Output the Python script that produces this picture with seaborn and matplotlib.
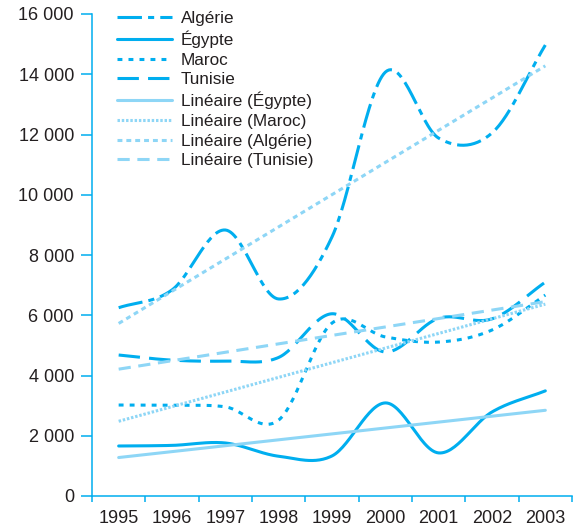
import numpy as np
import pandas as pd
import seaborn as sns
import matplotlib.pyplot as plt
from matplotlib.ticker import FuncFormatter, FixedLocator

# Values
years = [1995, 1996, 1997, 1998, 1999, 2000, 2001, 2002, 2003]
algerie = [6250, 6840, 8830, 6540, 8600, 14070, 11880, 12050, 14970]
egypte = [1660, 1680, 1760, 1320, 1330, 3090, 1430, 2790, 3490]
maroc = [3020, 3010, 2960, 2520, 5740, 5280, 5110, 5510, 6670]
tunisie = [4680, 4510, 4480, 4600, 6050, 4780, 5900, 5880, 7100]
y_ticks = [0, 2000, 4000, 6000, 8000, 10000, 12000, 14000, 16000]

dark = '#00AEEF'
light = '#8ED6F6'
text_col = '#231F20'

sns.set_style('white')
plt.rcParams['font.family'] = ['Liberation Sans', 'DejaVu Sans']
plt.rcParams['font.size'] = 13
plt.rcParams['text.color'] = text_col


def smooth(x, y, n=30):
    # Catmull-Rom style smoothing, like a spreadsheet "smoothed line"
    x = np.asarray(x, float)
    y = np.asarray(y, float)
    yp = np.concatenate([[2 * y[0] - y[1]], y, [2 * y[-1] - y[-2]]])
    xs, ys = [], []
    for i in range(len(x) - 1):
        m0 = (yp[i + 2] - yp[i]) / 2
        m1 = (yp[i + 3] - yp[i + 1]) / 2
        t = np.linspace(0, 1, n, endpoint=False)
        h00 = 2 * t**3 - 3 * t**2 + 1
        h10 = t**3 - 2 * t**2 + t
        h01 = -2 * t**3 + 3 * t**2
        h11 = t**3 - t**2
        xs.append(x[i] + t * (x[i + 1] - x[i]))
        ys.append(h00 * y[i] + h10 * m0 + h01 * y[i + 1] + h11 * m1)
    xs.append([x[-1]])
    ys.append([y[-1]])
    return np.concatenate(xs), np.concatenate(ys)


fig = plt.figure(figsize=(5.73, 5.27), dpi=100)
ax = fig.add_axes([92 / 573, 31 / 527, 480 / 573, 482 / 527])

series = [
    ('Algérie', algerie, (0, (8, 2, 2, 2))),
    ('Égypte', egypte, '-'),
    ('Maroc', maroc, (0, (1.6, 2.0))),
    ('Tunisie', tunisie, (0, (7, 3))),
]
handles = []
for name, vals, ls in series:
    xs, ys = smooth(years, vals)
    df = pd.DataFrame({'annee': xs, 'valeur': ys})
    sns.lineplot(data=df, x='annee', y='valeur', ax=ax, color=dark, lw=2.2,
                 linestyle=ls, sort=False, estimator=None)
    ax.lines[-1].set_label(name)
    handles.append(ax.lines[-1])

trends = [
    ('Linéaire (Égypte)', egypte, '-'),
    ('Linéaire (Maroc)', maroc, (0, (0.8, 0.6))),
    ('Linéaire (Algérie)', algerie, (0, (1.6, 1.3))),
    ('Linéaire (Tunisie)', tunisie, (0, (4, 2.5))),
]
for name, vals, ls in trends:
    sns.regplot(x=np.array(years, float), y=np.array(vals, float), ax=ax,
                scatter=False, ci=None, truncate=True, color=light,
                line_kws=dict(lw=2.2, linestyle=ls))
    ax.lines[-1].set_label(name)
    handles.append(ax.lines[-1])

ax.set_xlim(1994.5, 2003.5)
ax.set_ylim(0, 16000)
ax.set_xlabel('')
ax.set_ylabel('')

ax.set_yticks(y_ticks)
ax.yaxis.set_major_formatter(FuncFormatter(lambda v, p: f'{v:,.0f}'.replace(',', ' ')))
ax.xaxis.set_major_locator(FixedLocator(np.arange(1994.5, 2004, 1.0)))
ax.xaxis.set_major_formatter(FuncFormatter(lambda v, p: ''))
ax.xaxis.set_minor_locator(FixedLocator(years))
ax.xaxis.set_minor_formatter(FuncFormatter(lambda v, p: f'{int(round(v))}'))

ax.tick_params(axis='y', which='major', direction='out', length=8, width=1.1,
               color=dark, labelcolor=text_col, pad=5, left=True)
ax.tick_params(axis='x', which='major', direction='out', length=4.5, width=1.1,
               color=dark, bottom=True)
ax.tick_params(axis='x', which='minor', length=0, labelcolor=text_col, pad=10)

sns.despine(ax=ax)
for s in ['left', 'bottom']:
    ax.spines[s].set_color(dark)
    ax.spines[s].set_linewidth(1.1)

ax.legend(handles=handles, loc='upper left', bbox_to_anchor=(117 / 573, 1 - 11 / 527),
          bbox_transform=fig.transFigure, frameon=False, borderpad=0,
          borderaxespad=0, handlelength=3.2, handletextpad=0.55,
          labelspacing=0.27, fontsize=12.3)

fig.savefig('out.png', dpi=100, facecolor='white')
